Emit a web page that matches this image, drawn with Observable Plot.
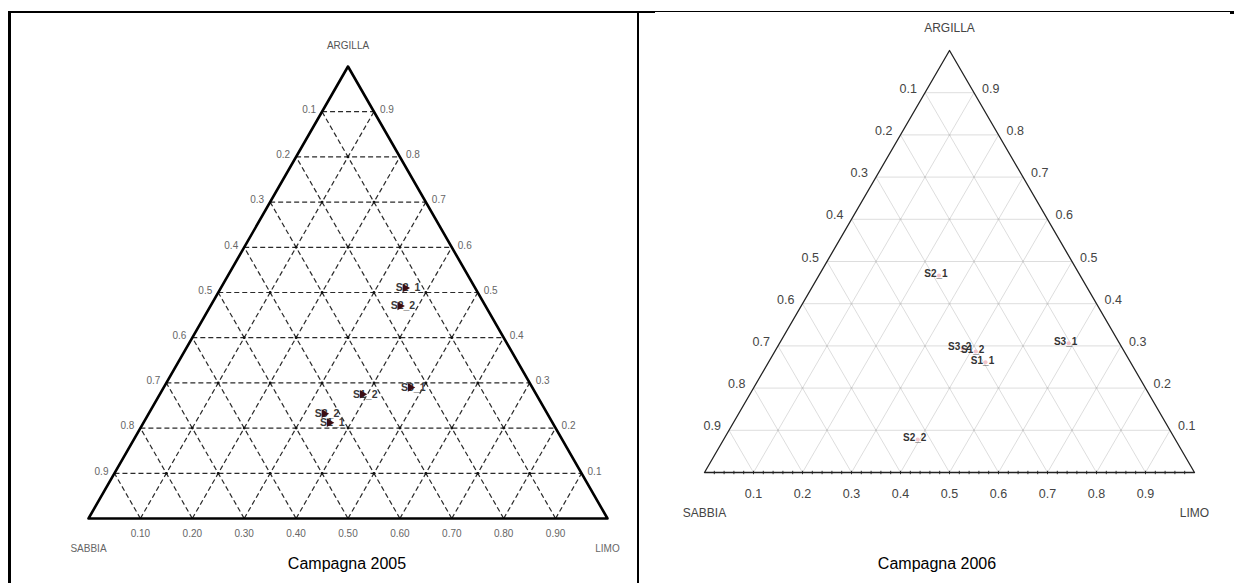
<!DOCTYPE html>
<html>
<head>
<meta charset="utf-8">
<script src="https://cdn.jsdelivr.net/npm/d3@7"></script>
<script src="https://cdn.jsdelivr.net/npm/@observablehq/plot@0.6"></script>
<style>
  html, body { margin: 0; padding: 0; background: #fff; }
  #page { position: relative; width: 1234px; height: 583px; overflow: hidden; background: #fff; font-family: "Liberation Sans", Arial, sans-serif; }
  .ln { position: absolute; background: #000; }
  .plotbox { position: absolute; }
  .cap { position: absolute; font-size: 16px; color: #000; text-align: center; width: 300px; }
</style>
</head>
<body>
<div id="page">
  <div class="ln" style="left:8px;top:11px;width:3px;height:572px;"></div>
  <div class="ln" style="left:8px;top:11px;width:647px;height:2px;"></div>
  <div class="ln" style="left:637px;top:11px;width:2px;height:572px;"></div>
  <div class="ln" style="left:655px;top:11px;width:575px;height:1px;"></div>
  <div class="ln" style="left:1230px;top:11px;width:4px;height:3px;"></div>
  <div id="p2005" class="plotbox" style="left:10px;top:13px;"></div>
  <div id="p2006" class="plotbox" style="left:640px;top:13px;"></div>
  <div class="cap" style="left:197px;top:555px;">Campagna 2005</div>
  <div class="cap" style="left:787px;top:555px;">Campagna 2006</div>
</div>
<script>
// ---- data ----
const levels = [0.1, 0.2, 0.3, 0.4, 0.5, 0.6, 0.7, 0.8, 0.9];
const sideTicks = ["0.1", "0.2", "0.3", "0.4", "0.5", "0.6", "0.7", "0.8", "0.9"];
const baseTicks2005 = ["0.10", "0.20", "0.30", "0.40", "0.50", "0.60", "0.70", "0.80", "0.90"];
const baseTicks2006 = ["0.1", "0.2", "0.3", "0.4", "0.5", "0.6", "0.7", "0.8", "0.9"];
const minorTicks2006 = d3.range(1, 50).map(i => i / 50);
const axisNames = ["ARGILLA", "SABBIA", "LIMO"];

const samples2005 = ["S2_1", "S2_2", "S1_2", "S3_1", "S3_2", "S1_1"];
const sabbia2005  = [0.135, 0.165, 0.335, 0.235, 0.430, 0.430];
const limo2005    = [0.355, 0.365, 0.390, 0.475, 0.338, 0.358];
const argilla2005 = [0.510, 0.470, 0.275, 0.290, 0.232, 0.212];

const samples2006 = ["S2_1", "S3_1", "S3_2", "S1_2", "S1_1", "S2_2"];
const sabbia2006  = [0.288, 0.104, 0.326, 0.303, 0.296, 0.526];
const limo2006    = [0.245, 0.590, 0.380, 0.410, 0.443, 0.396];
const argilla2006 = [0.467, 0.306, 0.294, 0.287, 0.261, 0.078];

// ---- helpers ----
const tx = (l, a) => l + a / 2;   // cartesian x in fraction space
const corners = [{l: 0, a: 0}, {l: 1, a: 0}, {l: 0, a: 1}, {l: 0, a: 0}];
function rows(names, s, l, a) {
  return names.map((n, i) => ({name: n, sabbia: s[i], limo: l[i], argilla: a[i]}));
}
function intersections() {
  const out = [];
  for (const a of levels) for (const l of levels) if (a + l < 0.999) out.push({l, a});
  return out;
}
function gridMarks(opts) {
  return [
    Plot.link(levels, {x1: a => a / 2, y1: a => a, x2: a => 1 - a / 2, y2: a => a, ...opts}),
    Plot.link(levels, {x1: l => l, y1: () => 0, x2: l => l + (1 - l) / 2, y2: l => 1 - l, ...opts}),
    Plot.link(levels, {x1: s => 1 - s, y1: () => 0, x2: s => (1 - s) / 2, y2: s => 1 - s, ...opts})
  ];
}

// ---- Campagna 2005 ----
const d2005 = rows(samples2005, sabbia2005, limo2005, argilla2005);
const font = "Liberation Sans, Arial, sans-serif";
const plot2005 = Plot.plot({
  width: 627, height: 570,
  marginLeft: 78, marginRight: 30, marginTop: 53, marginBottom: 65,
  x: {domain: [0, 1], axis: null},
  y: {domain: [0, 1], axis: null},
  style: {fontFamily: font, background: "transparent"},
  marks: [
    ...gridMarks({stroke: "#2a2a2a", strokeWidth: 1.2, strokeDasharray: "5,3"}),
    Plot.dot(intersections(), {x: d => tx(d.l, d.a), y: d => d.a, r: 1.4, fill: "#111", stroke: "none"}),
    Plot.line(corners, {x: d => tx(d.l, d.a), y: d => d.a, stroke: "#000", strokeWidth: 2.6}),
    Plot.text(levels, {x: a => a / 2, y: a => a, text: (a, i) => sideTicks[levels.length - 1 - i], textAnchor: "end", dx: -6, dy: -2, fontSize: 10, fill: "#666"}),
    Plot.text(levels, {x: a => 1 - a / 2, y: a => a, text: (a, i) => sideTicks[i], textAnchor: "start", dx: 6, dy: -2, fontSize: 10, fill: "#666"}),
    Plot.text(levels, {x: l => l, y: () => 0, text: (l, i) => baseTicks2005[i], dy: 15, fontSize: 10, fill: "#666"}),
    Plot.text([axisNames[0]], {x: () => 0.5, y: () => 1, text: d => d, dy: -21, fontSize: 10, fill: "#555"}),
    Plot.text([axisNames[1]], {x: () => 0, y: () => 0, text: d => d, dy: 30, fontSize: 10, fill: "#666"}),
    Plot.text([axisNames[2]], {x: () => 1, y: () => 0, text: d => d, dy: 30, fontSize: 10, fill: "#666"}),
    Plot.text(d2005, {x: d => tx(d.limo, d.argilla), y: d => d.argilla, text: "name", dx: 3, fontSize: 10.5, fontWeight: "bold", fill: "#3a3a3a"}),
    Plot.dot(d2005, {x: d => tx(d.limo, d.argilla), y: d => d.argilla, symbol: "triangle", rotate: 90, r: 3.2, fill: "#3b0d14", stroke: "none"})
  ]
});
document.getElementById("p2005").append(plot2005);

// ---- Campagna 2006 ----
const d2006 = rows(samples2006, sabbia2006, limo2006, argilla2006);
const plot2006 = Plot.plot({
  width: 594, height: 570,
  marginLeft: 64, marginRight: 40, marginTop: 37, marginBottom: 111,
  x: {domain: [0, 1], axis: null},
  y: {domain: [0, 1], axis: null},
  style: {fontFamily: font, background: "transparent"},
  marks: [
    ...gridMarks({stroke: "#d4d4d4", strokeWidth: 0.8}),
    Plot.dot(intersections(), {x: d => tx(d.l, d.a), y: d => d.a, r: 1, fill: "#c8c8c8", stroke: "none"}),
    Plot.link(minorTicks2006, {x1: t => t, x2: t => t, y1: () => -0.004, y2: () => 0.004, stroke: "#333", strokeWidth: 1}),
    Plot.line(corners, {x: d => tx(d.l, d.a), y: d => d.a, stroke: "#222", strokeWidth: 1.3}),
    Plot.text(levels, {x: a => a / 2, y: a => a, text: (a, i) => sideTicks[levels.length - 1 - i], textAnchor: "end", dx: -8, dy: -4, fontSize: 12.5, fill: "#444"}),
    Plot.text(levels, {x: a => 1 - a / 2, y: a => a, text: (a, i) => sideTicks[i], textAnchor: "start", dx: 8, dy: -4, fontSize: 12.5, fill: "#444"}),
    Plot.text(levels, {x: l => l, y: () => 0, text: (l, i) => baseTicks2006[i], dy: 21, fontSize: 12.5, fill: "#444"}),
    Plot.text([axisNames[0]], {x: () => 0.5, y: () => 1, text: d => d, dy: -22, fontSize: 12, fill: "#444"}),
    Plot.text([axisNames[1]], {x: () => 0, y: () => 0, text: d => d, dy: 41, fontSize: 12, fill: "#444"}),
    Plot.text([axisNames[2]], {x: () => 1, y: () => 0, text: d => d, dy: 41, fontSize: 12, fill: "#444"}),
    Plot.dot(d2006, {x: d => tx(d.limo, d.argilla), y: d => d.argilla, r: 2, fill: "#f2c4cb", stroke: "none"}),
    Plot.text(d2006, {x: d => tx(d.limo, d.argilla), y: d => d.argilla, text: "name", dx: -3, dy: -2, fontSize: 10, fontWeight: "bold", fill: "#333"})
  ]
});
document.getElementById("p2006").append(plot2006);
</script>
</body>
</html>
